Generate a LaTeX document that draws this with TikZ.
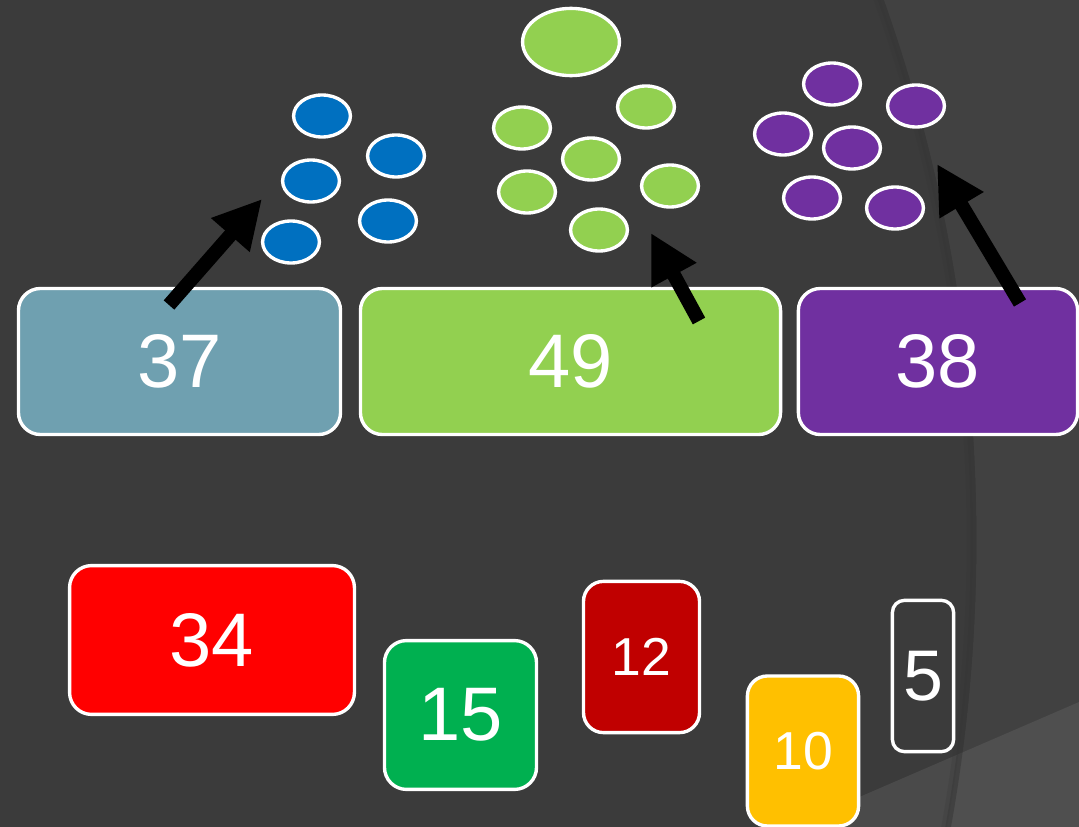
\documentclass[tikz,border=0pt]{standalone}
\usepackage{fontspec}
\setmainfont{Liberation Sans}
\usetikzlibrary{arrows.meta,shapes.geometric}
\definecolor{slide}{HTML}{3B3B3B}
\definecolor{slideedge}{HTML}{333333}
\definecolor{slidelight}{HTML}{4A4A4A}
\definecolor{tealgrey}{HTML}{6FA0B0}
\definecolor{leaf}{HTML}{92D050}
\definecolor{plum}{HTML}{7030A0}
\definecolor{ocean}{HTML}{0070C0}
\definecolor{brightred}{HTML}{FF0000}
\definecolor{darkred}{HTML}{C00000}
\definecolor{emerald}{HTML}{00B050}
\definecolor{amber}{HTML}{FFC000}

\begin{document}
\begin{tikzpicture}[x=0.025cm,y=-0.025cm,
  card/.style={draw=white,line width=2.4pt,rounded corners=0.55cm,text=white,inner sep=0pt,
    font=\fontsize{54}{60}\selectfont},
  blob/.style={ellipse,draw=white,line width=2.4pt,minimum width=1.42cm,minimum height=1.05cm,inner sep=0pt},
  pointer/.style={line width=10pt,-{Triangle[length=1.2cm,width=1.2cm]}}]
\useasboundingbox (0,0) rectangle (1079,827);
% background
\fill[slide] (0,0) rectangle (1079,827);
\begin{scope}
\clip (0,0) rectangle (1079,827);
\fill[slidelight] (790,827) -- (1079,702) -- (1079,827) -- cycle;
\fill[white,opacity=0.03,even odd rule] (0,0) rectangle (1079,827) (-638,540) circle[radius=40.35cm];
\draw[slideedge,line width=4pt,opacity=0.35] (-638,540) circle[radius=40.28cm];
\draw[slideedge,line width=4pt,opacity=0.2] (-638,540) circle[radius=40.18cm];
\end{scope}

% totals
\node[card,fill=tealgrey,minimum width=8.05cm,minimum height=3.65cm] (t37) at (179.5,361.5) {37};
\node[card,fill=leaf,minimum width=10.5cm,minimum height=3.65cm] (t49) at (570.5,361.5) {49};
\node[card,fill=plum,minimum width=6.98cm,minimum height=3.65cm] (t38) at (938,361.5) {38};

% blue dots
\node[blob,fill=ocean] (b1) at (322,116) {};
\node[blob,fill=ocean] (b2) at (396,156) {};
\node[blob,fill=ocean] (b3) at (311,181) {};
\node[blob,fill=ocean] (b4) at (388,221) {};
\node[blob,fill=ocean] (b5) at (291,242) {};

% green dots
\node[blob,fill=leaf,minimum width=2.42cm,minimum height=1.68cm] (g0) at (571,42) {};
\node[blob,fill=leaf] (g1) at (646,107) {};
\node[blob,fill=leaf] (g2) at (522,128) {};
\node[blob,fill=leaf] (g3) at (591,159) {};
\node[blob,fill=leaf] (g4) at (527,192) {};
\node[blob,fill=leaf] (g5) at (670,186) {};
\node[blob,fill=leaf] (g6) at (599,230) {};

% purple dots
\node[blob,fill=plum] (p1) at (832,84) {};
\node[blob,fill=plum] (p2) at (916,106) {};
\node[blob,fill=plum] (p3) at (783,134) {};
\node[blob,fill=plum] (p4) at (852,148) {};
\node[blob,fill=plum] (p5) at (812,198) {};
\node[blob,fill=plum] (p6) at (895,208) {};

% arrows
\coordinate (a1) at (169,305);
\coordinate (h1) at (262,199);
\coordinate (a2) at (699,321);
\coordinate (h2) at (651,233);
\coordinate (a3) at (1020,303);
\coordinate (h3) at (937,164);
\draw[pointer] (a1) -- (h1);
\draw[pointer] (a2) -- (h2);
\draw[pointer] (a3) -- (h3);

% lower cards
\node[card,fill=brightred,minimum width=7.12cm,minimum height=3.72cm] (c34) at (212,640) {34};
\node[card,fill=emerald,minimum width=3.8cm,minimum height=3.72cm] (c15) at (460.5,715) {15};
\node[card,fill=darkred,minimum width=2.9cm,minimum height=3.78cm,rounded corners=0.5cm,
  font=\fontsize{38}{42}\selectfont] (c12) at (641.5,657) {12};
\node[card,fill=amber,minimum width=2.78cm,minimum height=3.75cm,rounded corners=0.5cm,
  font=\fontsize{38}{42}\selectfont] (c10) at (803,751) {10};
\node[card,minimum width=1.53cm,minimum height=3.78cm,rounded corners=0.3cm,
  font=\fontsize{51}{56}\selectfont] (c5) at (923,676) {5};
\end{tikzpicture}
\end{document}
